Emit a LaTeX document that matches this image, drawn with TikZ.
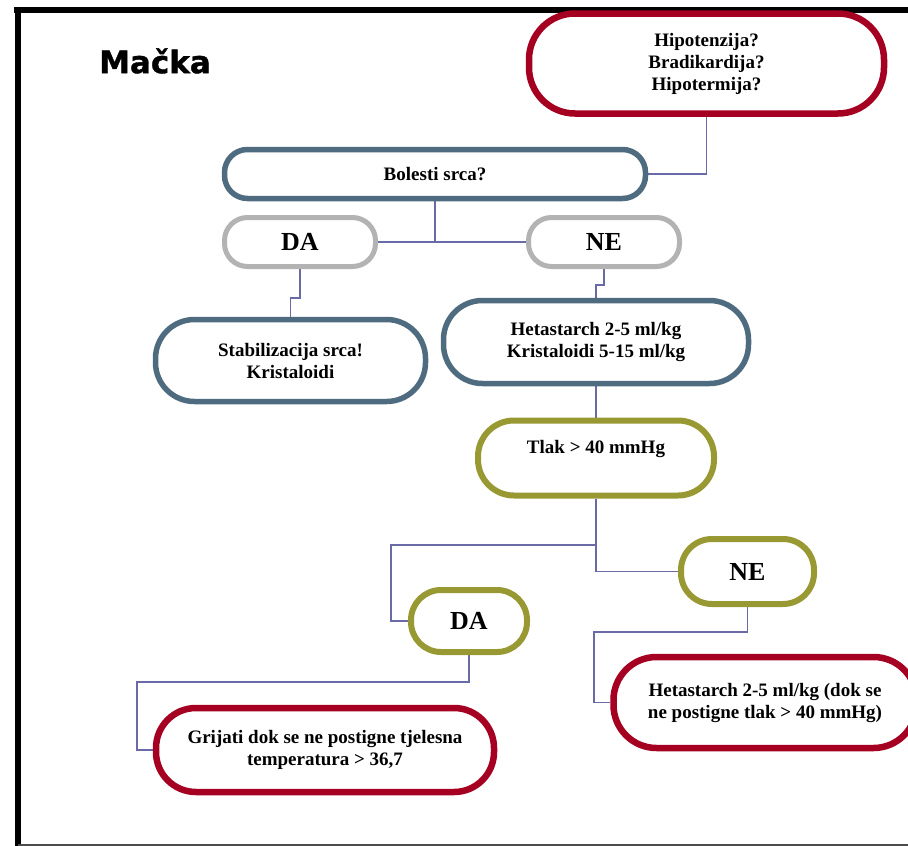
\documentclass[tikz,border=0pt]{standalone}
\usepackage{fontspec}
\setmainfont{Liberation Serif}
\newfontfamily\titlefont{DejaVu Sans}[BoldFeatures={FakeBold=1.2}]
\usetikzlibrary{backgrounds}
\definecolor{cred}{HTML}{A50021}
\definecolor{cblue}{HTML}{4E6B80}
\definecolor{cgray}{HTML}{B3B3B3}
\definecolor{colive}{HTML}{999933}
\definecolor{cline}{HTML}{6A6AA6}
\tikzset{
  box/.style={draw, fill=white, rectangle, inner sep=0pt, align=center, text=black,
    font=\bfseries\fontsize{19}{22}\selectfont},
  redbox/.style={box, draw=cred, line width=6.5pt},
  bluebox/.style={box, draw=cblue, line width=5.5pt},
  graybox/.style={box, draw=cgray, line width=5pt, font=\bfseries\fontsize{26}{30}\selectfont},
  olivebox/.style={box, draw=colive, line width=6pt},
  bigolive/.style={olivebox, font=\bfseries\fontsize{26}{30}\selectfont},
  conn/.style={draw=cline, line width=1.3pt},
  frameline/.style={draw=black, line width=6pt},
}
\begin{document}
\begin{tikzpicture}[x=1pt,y=-1pt]
\useasboundingbox (0,0) rectangle (908,846);
\clip (0,0) rectangle (908,846);

\node[font=\titlefont\bfseries\fontsize{31}{34}\selectfont] (title) at (155,61) {Mačka};

\node[redbox, minimum width=355pt, minimum height=100pt, rounded corners=46pt] (r1) at (706.5,63.5)
  {Hipotenzija?\\Bradikardija?\\Hipotermija?};
\node[bluebox, minimum width=421pt, minimum height=49pt, rounded corners=23pt] (bol) at (435,174)
  {Bolesti srca?};
\node[graybox, minimum width=151pt, minimum height=49pt, rounded corners=23pt] (da) at (300,242) {DA};
\node[graybox, minimum width=151pt, minimum height=49pt, rounded corners=23pt] (ne) at (604,242) {NE};
\node[bluebox, minimum width=270pt, minimum height=82pt, rounded corners=39pt] (stab) at (290.5,360.5)
  {Stabilizacija srca!\\Kristaloidi};
\node[bluebox, minimum width=305pt, minimum height=83pt, rounded corners=39pt] (het1) at (596,342)
  {Hetastarch 2-5 ml/kg\\Kristaloidi 5-15 ml/kg};
\node[olivebox, minimum width=236pt, minimum height=75pt, rounded corners=36pt] (tlak) at (596,458)
  {Tlak > 40 mmHg\\\mbox{}};
\node[bigolive, minimum width=116pt, minimum height=62pt, rounded corners=30pt] (da2) at (469,621) {DA};
\node[bigolive, minimum width=133pt, minimum height=65pt, rounded corners=31pt] (ne2) at (747.5,571.5) {NE};
\node[redbox, minimum width=338pt, minimum height=84pt, rounded corners=40pt] (grij) at (325,750)
  {Grijati dok se ne postigne tjelesna\\temperatura > 36,7};
\node[redbox, minimum width=303pt, minimum height=91pt, rounded corners=43pt] (het2) at (765,702.5)
  {Hetastarch 2-5 ml/kg (dok se\\ne postigne tlak > 40 mmHg)};

\begin{pgfonlayer}{background}
  \draw[frameline] (14,10.3) -- (908,10.3);
  \draw[frameline] (17.5,7.3) -- (17.5,846);
  \draw[draw=black!70, line width=1.5pt] (17.5,845) -- (908,845);

  \draw[conn] (r1.south) |- (bol.east);
  \draw[conn] (bol.south) -- (bol.south |- da.east);
  \draw[conn] (da.east) -- (ne.west);
  \draw[conn] (da.south) -- (da.south |- 0,298) -| (stab.north);
  \draw[conn] (ne.south) -- (ne.south |- 0,285) -| (het1.north);
  \draw[conn] (het1.south) -- (tlak.north);
  \draw[conn] (tlak.south) |- (391,545) |- (da2.west);
  \draw[conn] (tlak.south) |- (ne2.west);
  \draw[conn] (ne2.south) |- (594,632) |- (het2.west);
  \draw[conn] (da2.south) |- (137,682) |- (grij.west);
\end{pgfonlayer}
\end{tikzpicture}
\end{document}
